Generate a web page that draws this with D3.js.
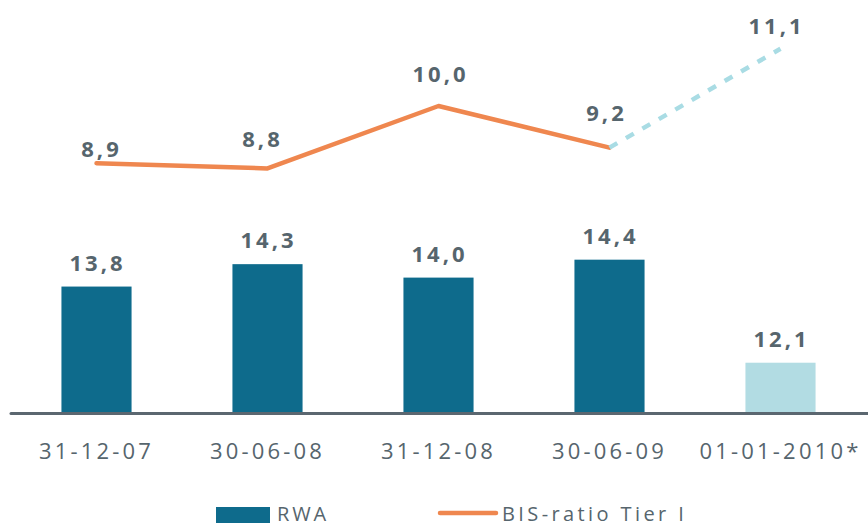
<!DOCTYPE html>
<html>
<head>
<meta charset="utf-8">
<script src="https://cdn.jsdelivr.net/npm/d3@7"></script>
<style>
  body { margin: 0; background: #fff; }
  text { font-family: "Open Sans", sans-serif; }
</style>
</head>
<body>
<script>
var categories = ["31-12-07", "30-06-08", "31-12-08", "30-06-09", "01-01-2010*"];
var rwa = [13.8, 14.3, 14.0, 14.4, 12.1];
var bisTier1 = [8.9, 8.8, 10.0, 9.2, 11.1];
var forecastIndex = 4; // last point is the estimate

// small per-label nudges so the line labels sit like in the original
var lineLabelDy = [-6, -21, -24, -27, -15];
var lineLabelDx = [5, -5, 2, -3, -4];

var width = 868, height = 528;
var baseY = 412;
var textColor = "#56656d";

var svg = d3.select("body").append("svg")
  .attr("width", width)
  .attr("height", height);

var x = d3.scaleBand()
  .domain(categories)
  .range([11, 866])
  .paddingInner(0.59)
  .paddingOuter(0.295);

var yBar = d3.scaleLinear()
  .domain([11, 15])
  .range([baseY, baseY - 4 * 44.8]);

var yLine = d3.scaleLinear()
  .domain([8, 12])
  .range([210, 2]);

// bars
svg.selectAll(".bar")
  .data(rwa)
  .enter()
    .append("rect")
    .attr("class", "bar")
    .attr("x", function(d, i){ return x(categories[i]); })
    .attr("width", x.bandwidth())
    .attr("y", function(d){ return yBar(d); })
    .attr("height", function(d){ return baseY - yBar(d); })
    .attr("fill", function(d, i){ return i == forecastIndex ? "#b2dce3" : "#0e6b8c"; });

// bar labels
svg.selectAll(".barLabel")
  .data(rwa)
  .enter()
    .append("text")
    .attr("class", "barLabel")
    .attr("x", function(d, i){ return x(categories[i]) + x.bandwidth() / 2 + 1; })
    .attr("y", function(d){ return yBar(d) - 16; })
    .attr("text-anchor", "middle")
    .attr("fill", textColor)
    .style("font-size", "22px")
    .style("font-weight", "bold")
    .style("letter-spacing", "3px")
    .text(function(d){ return d.toFixed(1).replace(".", ","); });

// axis baseline
svg.append("line")
  .attr("x1", 11).attr("x2", width)
  .attr("y1", baseY + 1.5).attr("y2", baseY + 1.5)
  .attr("stroke", "#5b6770")
  .attr("stroke-width", 3)
  .attr("stroke-linecap", "round");

// category labels
svg.selectAll(".cat")
  .data(categories)
  .enter()
    .append("text")
    .attr("class", "cat")
    .attr("x", function(d){ return x(d) + x.bandwidth() / 2; })
    .attr("y", 459)
    .attr("text-anchor", "middle")
    .attr("fill", textColor)
    .style("font-size", "22px")
    .style("letter-spacing", "3.2px")
    .text(function(d){ return d; });

// line
var pts = bisTier1.map(function(v, i){
  return [x(categories[i]) + x.bandwidth() / 2, yLine(v)];
});
var line = d3.line();

svg.append("path")
  .attr("d", line(pts.slice(0, forecastIndex)))
  .attr("fill", "none")
  .attr("stroke", "#ef874f")
  .attr("stroke-width", 4.5)
  .attr("stroke-linecap", "round")
  .attr("stroke-linejoin", "round");

svg.append("path")
  .attr("d", line(pts.slice(forecastIndex - 1)))
  .attr("fill", "none")
  .attr("stroke", "#a9dce4")
  .attr("stroke-width", 4.5)
  .attr("stroke-dasharray", "9,10");

// line labels
svg.selectAll(".lineLabel")
  .data(bisTier1)
  .enter()
    .append("text")
    .attr("class", "lineLabel")
    .attr("x", function(d, i){ return pts[i][0] + lineLabelDx[i]; })
    .attr("y", function(d, i){ return pts[i][1] + lineLabelDy[i]; })
    .attr("text-anchor", "middle")
    .attr("fill", textColor)
    .style("font-size", "22px")
    .style("font-weight", "bold")
    .style("letter-spacing", "3px")
    .text(function(d){ return d.toFixed(1).replace(".", ","); });

// legend
var legend = svg.append("g");
legend.append("rect")
  .attr("x", 216).attr("y", 507)
  .attr("width", 54).attr("height", 16)
  .attr("fill", "#0e6b8c");
legend.append("text")
  .attr("x", 277).attr("y", 521)
  .attr("fill", textColor)
  .style("font-size", "20px")
  .style("letter-spacing", "2.8px")
  .text("RWA");
legend.append("line")
  .attr("x1", 440).attr("x2", 496)
  .attr("y1", 513).attr("y2", 513)
  .attr("stroke", "#ef874f")
  .attr("stroke-width", 4.5)
  .attr("stroke-linecap", "round");
legend.append("text")
  .attr("x", 502).attr("y", 521)
  .attr("fill", textColor)
  .style("font-size", "20px")
  .style("letter-spacing", "3.4px")
  .text("BIS-ratio Tier I");
</script>
</body>
</html>
